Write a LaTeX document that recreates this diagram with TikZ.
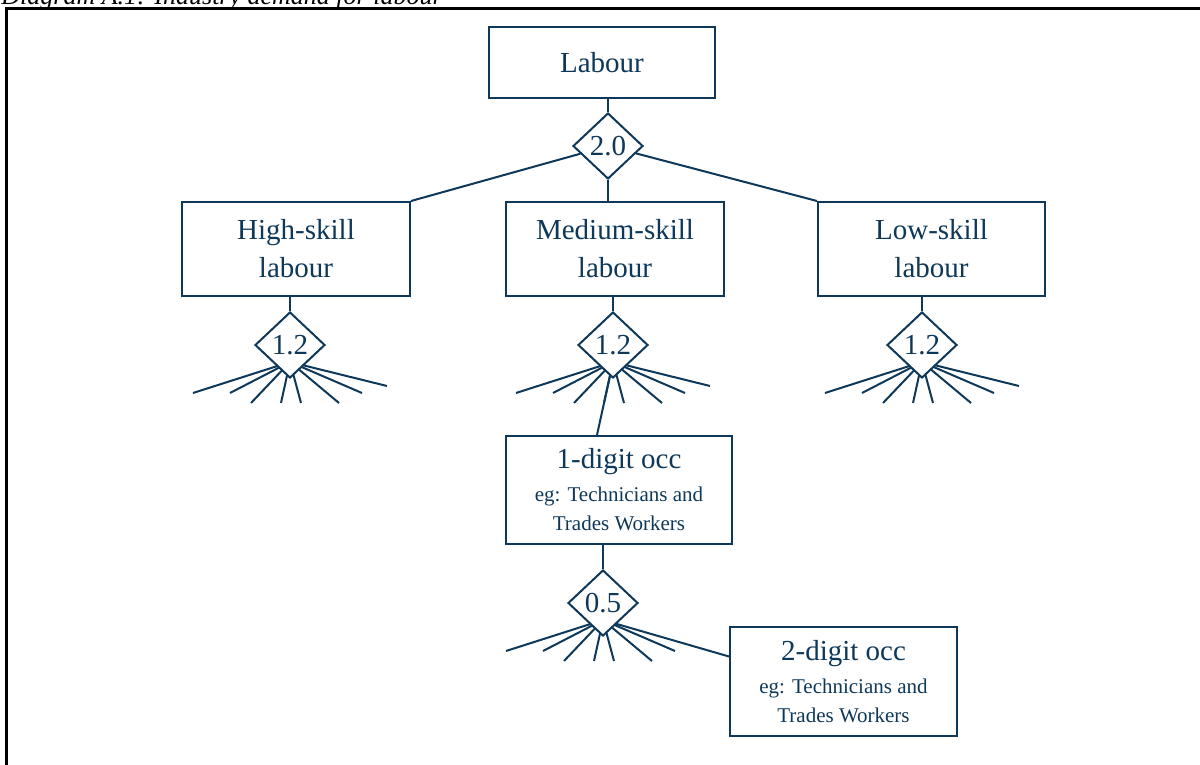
\documentclass[tikz,border=0pt]{standalone}
\usepackage{fontspec}
\setmainfont{Liberation Serif}
\usetikzlibrary{shapes.geometric,calc,backgrounds}
\definecolor{navy}{RGB}{14,56,89}
\newcommand{\bigtxt}{\fontsize{14.5}{19}\selectfont}
\newcommand{\smalltxt}{\fontsize{10.5}{14}\selectfont}

\begin{document}
\begin{tikzpicture}[x=0.5pt,y=-0.5pt,
    level/.style ={rectangle, draw=navy, text=navy, line width=1pt, font=\bigtxt, align=center, inner sep=0pt},
    elast/.style ={diamond, draw=navy, fill=white, text=navy, line width=1pt, font=\bigtxt, inner sep=0pt, minimum width=35pt, minimum height=33pt},
    link/.style ={draw=navy, line width=1pt}]
   \useasboundingbox (0,0) rectangle (1200,765);
   \draw[line width=1.5pt] (6,9) rectangle (1215,780);
   \node[anchor=base west, inner sep=0pt, font=\fontsize{13}{15}\selectfont\itshape] (title) at (1,5) {Diagram A.1: Industry demand for labour};

   % occupation levels
   \node[level, minimum width=113pt, minimum height=35.5pt] (labour) at (602,62.5) {Labour};
   \node[elast] (d20) at (608,146) {2.0};
   \node[level, minimum width=114pt, minimum height=47pt] (high) at (296,249) {High-skill\\labour};
   \node[level, minimum width=109pt, minimum height=47pt] (med) at (615,249) {Medium-skill\\labour};
   \node[level, minimum width=113.5pt, minimum height=47pt] (low) at (931.5,249) {Low-skill\\labour};
   \node[elast] (dH) at (290,345) {1.2};
   \node[elast] (dM) at (613,345) {1.2};
   \node[elast] (dL) at (922,345) {1.2};
   \node[level, minimum width=113pt, minimum height=54pt] (one) at (619,490)
      {1-digit occ\\[-2.5pt]{\smalltxt eg: Technicians and}\\[-4.5pt]{\smalltxt Trades Workers}};
   \node[elast] (d05) at (603,603) {0.5};
   \node[level, minimum width=113.5pt, minimum height=54.5pt] (two) at (843.5,681.5)
      {2-digit occ\\[-2.5pt]{\smalltxt eg: Technicians and}\\[-4.5pt]{\smalltxt Trades Workers}};

   \draw[link] (labour.south -| d20.north) -- (d20.north);
   \draw[link] (d20.south) -- (d20.south |- med.north);
   \draw[link] (d20) -- (high.north east);
   \draw[link] (d20) -- (low.north west);
   \draw[link] (high.south -| dH.north) -- (dH.north);
   \draw[link] (med.south -| dM.north) -- (dM.north);
   \draw[link] (low.south -| dL.north) -- (dL.north);
   \draw[link] (one.south -| d05.north) -- (d05.north);

   \coordinate (oneIn) at ($(one.north west)+(92,0)$);
   \coordinate (twoIn) at ($(two.west)+(0,-25)$);

   % fans below the diamonds
   \begin{scope}[on background layer]
   \foreach \d in {dH,dM,dL}{
      \foreach \dx/\dy [count=\i] in {-97/48,-60/48,-39/58,-9/58,11/58,49/58,72/48,97/41}{
         \coordinate (\d-f\i) at ($(\d)+(\dx,\dy)$);
         \draw[link] ($(\d)+(0,17)$) -- (\d-f\i);
      }
   }
   \foreach \dx/\dy [count=\i] in {-97/48,-60/48,-39/58,-9/58,11/58,49/58,72/48}{
      \coordinate (d05-f\i) at ($(d05)+(\dx,\dy)$);
      \draw[link] ($(d05)+(0,17)$) -- (d05-f\i);
   }
   \draw[link] ($(dM)+(0,17)$) -- (oneIn);
   \draw[link] ($(d05)+(0,17)$) -- (twoIn);
   \end{scope}
\end{tikzpicture}
\end{document}
